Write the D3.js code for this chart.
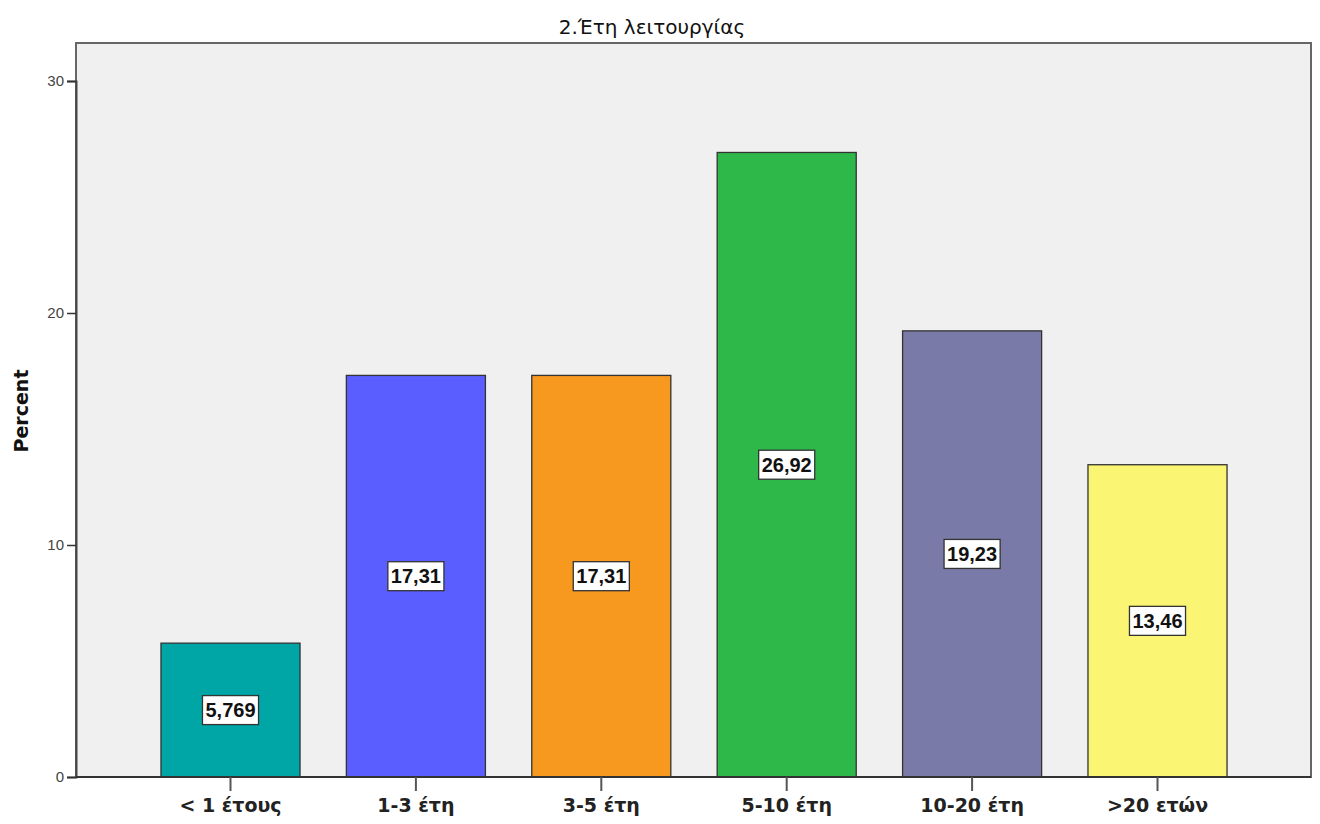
<!DOCTYPE html>
<html><head><meta charset="utf-8">
<script src="https://cdn.jsdelivr.net/npm/d3@7"></script>
<style>body{margin:0;background:#fff}</style>
</head><body>
<svg id="c" width="1320" height="824"></svg>
<script>
const categories = ["< 1 έτους","1-3 έτη","3-5 έτη","5-10 έτη","10-20 έτη",">20 ετών"];
const values = [5.769, 17.31, 17.31, 26.92, 19.23, 13.46];
const valueLabels = ["5,769","17,31","17,31","26,92","19,23","13,46"];
const colors = ["#00A6A6","#5B5EFF","#F7981F","#2FB84A","#7A7AA8","#FAF573"];
const yTicks = [0,10,20,30];

const svg = d3.select("#c");
const L=76, R=1311, T=43, B=777;
const y = d3.scaleLinear().domain([0,30]).range([B, 81]);
const x = d3.scaleBand().domain(categories).range([137.8,1250.2]).paddingInner(0.25).paddingOuter(0.125);

svg.append("rect").attr("x",L).attr("y",T).attr("width",R-L).attr("height",B-T)
  .attr("fill","#F0F0F0").attr("stroke","#666").attr("stroke-width",2);

svg.selectAll("rect.bar").data(values).enter().append("rect").attr("class","bar")
  .attr("x",(d,i)=>x(categories[i])).attr("width",x.bandwidth())
  .attr("y",d=>y(d)).attr("height",d=>B-y(d))
  .attr("fill",(d,i)=>colors[i]).attr("stroke","#333").attr("stroke-width",1.3);

// axes
const ya = svg.append("g").attr("transform",`translate(${L},0)`)
  .call(d3.axisLeft(y).tickValues(yTicks).tickSize(9).tickPadding(3));
ya.select(".domain").attr("stroke","#444").attr("stroke-width",2);
ya.selectAll(".tick line").attr("stroke","#333").attr("stroke-width",1.5);
ya.selectAll("text").attr("font-family","Liberation Sans, Arial").attr("font-size",15).attr("fill","#444");

const xa = svg.append("g").attr("transform",`translate(0,${B})`)
  .call(d3.axisBottom(x).tickSize(14).tickPadding(8));
xa.select(".domain").attr("stroke","#333").attr("stroke-width",2).attr("d",`M${L},0H${R}`);
xa.selectAll(".tick line").attr("stroke","#555").attr("stroke-width",2);
xa.selectAll("text").attr("font-family","DejaVu Sans").attr("font-size",19)
  .attr("font-weight","bold").attr("fill","#222");

// value labels
const lab = svg.selectAll("g.lab").data(values).enter().append("g").attr("class","lab")
  .attr("transform",(d,i)=>`translate(${x(categories[i])+x.bandwidth()/2},${y(d/2)})`);
lab.append("text").text((d,i)=>valueLabels[i]).attr("text-anchor","middle").attr("dy","0.36em")
  .attr("font-family","Liberation Sans, Arial").attr("font-size",20).attr("font-weight","bold").attr("fill","#111")
  .each(function(){
    const b=this.getBBox();
    d3.select(this.parentNode).insert("rect","text").attr("x",b.x-3).attr("y",-14.5).attr("width",b.width+6).attr("height",29)
      .attr("fill","#fff").attr("stroke","#333").attr("stroke-width",1.3);
  });

svg.append("text").attr("x",652).attr("y",34).attr("text-anchor","middle")
  .attr("font-family","DejaVu Sans").attr("font-size",20).attr("fill","#111")
  .text("2.Έτη λειτουργίας");

svg.append("text").attr("transform","translate(28,411) rotate(-90)").attr("text-anchor","middle")
  .attr("font-family","DejaVu Sans").attr("font-size",19).attr("font-weight","bold").attr("fill","#111")
  .text("Percent");
</script>
</body></html>
